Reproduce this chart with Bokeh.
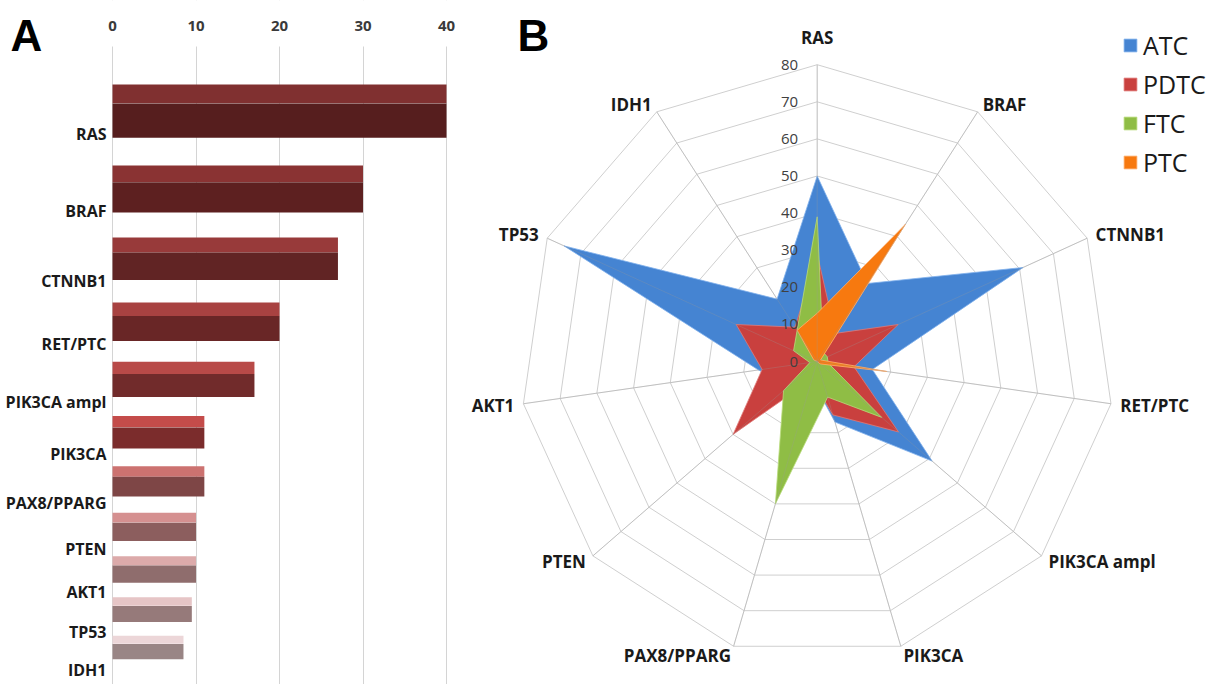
import numpy as np
from bokeh.plotting import figure
from bokeh.models import (Range1d, Label, FixedTicker, ColumnDataSource, Legend,
                          LegendItem, BoxAnnotation)
from bokeh.layouts import row
from bokeh.embed import file_html
from bokeh.resources import INLINE
from bokeh.core.properties import value

# ---------------- data ----------------
genes_a = ["RAS", "BRAF", "CTNNB1", "RET/PTC", "PIK3CA ampl", "PIK3CA",
           "PAX8/PPARG", "PTEN", "AKT1", "TP53", "IDH1"]
freq_a = [40, 30, 27, 20, 17, 11, 11, 10, 10, 9.5, 8.5]
ticks_a = [0, 10, 20, 30, 40]

genes_b = ["RAS", "BRAF", "CTNNB1", "RET/PTC", "PIK3CA ampl", "PIK3CA",
           "PAX8/PPARG", "PTEN", "AKT1", "TP53", "IDH1"]
atc = [50, 25, 61, 15, 41, 17, 5, 10, 16, 75, 20]
pdtc = [29, 9, 24, 10, 29, 15, 5, 30, 15, 24, 11]
ftc = [39, 3, 3, 3, 23, 10, 40, 12, 2, 7, 10]
ptc = [13, 44, 1, 19, 1, 0, 0, 0, 0, 1, 10]
series_names = ["ATC", "PDTC", "FTC", "PTC"]
radial_ticks = [0, 10, 20, 30, 40, 50, 60, 70, 80]

# ---------------- styles ----------------
top_colors = ["#803030", "#8a3333", "#983a3a", "#a84241", "#b84a48", "#c44c4a",
              "#cc7270", "#d59090", "#dcaaaa", "#e6c5c6", "#ecd6d8"]
front_colors = ["#561e1e", "#5d2020", "#612424", "#692626", "#712b2b", "#7b2c2c",
                "#7e4646", "#8c5e5e", "#8f6d6d", "#967a7a", "#998585"]
series_fill = ["#4584d2", "#c9403e", "#8fbd45", "#f7790f"]
series_edge = ["#7fb0ec", "#e07a78", "#b9dc7c", "#ffb070"]
FONT = "Open Sans"

# ---------------- layout geometry (page pixels) ----------------
WA, WB, H = 460, 756, 684
frame_top, frame_bot = 0, H

# ---------------- panel A ----------------
x0_px, ppu = 112, 8.35           # pixel of value 0, pixels per unit
row_px0, row_k = 111, 661.0      # pixel of first row, pixels per ln-unit (perspective rows)
pos = np.arange(len(genes_a)) + 8.0


def y_at(px):
    return 8 * np.exp((px - row_px0) / row_k)


src_a = ColumnDataSource(dict(
    gene=genes_a, freq=freq_a, pos=pos,
    y_top=pos - 0.21, y_front=pos + 0.11,
    top_color=top_colors, front_color=front_colors))

pa = figure(width=WA, height=H,
            x_range=Range1d((0 - x0_px) / ppu, (WA - x0_px) / ppu),
            y_range=Range1d(y_at(frame_bot), y_at(frame_top)), y_axis_type="log",
            x_axis_location="above", y_axis_location=None,
            output_backend="svg", toolbar_location=None,
            min_border_left=0, min_border_right=0, min_border_top=0, min_border_bottom=0)
pa.outline_line_color = None
pa.ygrid.visible = False
pa.xgrid.grid_line_color = "#d4d4d4"
pa.xaxis.ticker = FixedTicker(ticks=ticks_a)
pa.xaxis.fixed_location = y_at(35)
pa.xaxis.axis_line_color = None
pa.xaxis.major_tick_line_color = None
pa.xaxis.minor_tick_line_color = None
pa.xaxis.major_tick_out = 0
pa.xaxis.major_label_standoff = 5
pa.xaxis.major_label_text_font = FONT
pa.xaxis.major_label_text_font_style = "bold"
pa.xaxis.major_label_text_font_size = "15px"
pa.xaxis.major_label_text_color = "#3a3a3a"

# keep grid lines below the tick-label band
pa.add_layout(BoxAnnotation(bottom=y_at(46), fill_color="white", fill_alpha=1,
                            line_color=None, level="underlay"))

pa.hbar(y="y_top", height=0.22, left=0, right="freq", source=src_a,
        fill_color="top_color", line_color=None)
pa.hbar(y="y_front", height=0.42, left=0, right="freq", source=src_a,
        fill_color="front_color", line_color=None)
pa.text(x=0, y="pos", text="gene", source=src_a, x_offset=-6, y_offset=22,
        text_align="right", text_baseline="middle",
        text_font=value(FONT), text_font_style="bold", text_font_size="16px",
        text_color="#1a1a1a")
pa.add_layout(Label(x=10, y=H - 35, x_units="screen", y_units="screen",
                    text="A", text_font="Liberation Sans", text_font_style="bold",
                    text_font_size="44px", text_color="#000000",
                    text_baseline="alphabetic", text_align="left"))

# ---------------- panel B ----------------
cx_px, cy_px, ppu_b = 816.7, 361.0, 3.71
fb_left, fb_right = WA, WA + WB
n = len(genes_b)
theta = np.arange(n) * 2 * np.pi / n
sx, cy = np.sin(theta), np.cos(theta)
rmax = radial_ticks[-1]

pb = figure(width=WB, height=H,
            x_range=Range1d((fb_left - cx_px) / ppu_b, (fb_right - cx_px) / ppu_b),
            y_range=Range1d((cy_px - frame_bot) / ppu_b, (cy_px - frame_top) / ppu_b),
            x_axis_location=None, y_axis_location=None,
            output_backend="svg", toolbar_location=None,
            min_border_left=0, min_border_right=0, min_border_top=0, min_border_bottom=0)
pb.outline_line_color = None
pb.xgrid.visible = False
pb.ygrid.visible = False

ring_xs = [list(np.append(r * sx, r * sx[0])) for r in radial_ticks[1:]]
ring_ys = [list(np.append(r * cy, r * cy[0])) for r in radial_ticks[1:]]
pb.multi_line(ring_xs, ring_ys, line_color="#cfcfcf", line_width=1)
pb.segment(x0=0, y0=0, x1=rmax * sx, y1=rmax * cy, line_color="#cfcfcf", line_width=1)

items = []
for name, vals, fc, ec in zip(series_names, [atc, pdtc, ftc, ptc], series_fill, series_edge):
    v = np.array(vals, dtype=float)
    r = pb.patch(x=list(v * sx), y=list(v * cy), fill_color=fc, line_color=ec,
                 line_width=1, line_alpha=0.8)
    items.append(LegendItem(label=name, renderers=[r]))

pb.segment(x0=0, y0=0, x1=rmax * sx, y1=rmax * cy, line_color="#9a9a9a",
           line_width=0.8, line_alpha=0.35)

pb.text(x=[0] * len(radial_ticks), y=radial_ticks, text=[str(t) for t in radial_ticks],
        x_offset=-19, text_align="right", text_baseline="middle",
        text_font=value(FONT), text_font_size="15px", text_color="#404040")

rl = 82.5
aligns, bases, yoffs = [], [], []
for s, c in zip(sx, cy):
    if s > 0.1:
        aligns.append("left")
    elif s < -0.1:
        aligns.append("right")
    else:
        aligns.append("center")
    if abs(s) <= 0.1:
        bases.append("bottom" if c > 0 else "top")
        yoffs.append(-6 if c > 0 else 6)
    else:
        bases.append("middle")
        yoffs.append(0)
src_lab = ColumnDataSource(dict(x=rl * sx, y=rl * cy, t=genes_b, a=aligns, b=bases, yo=yoffs))
pb.text(x="x", y="y", text="t", source=src_lab, text_align="a", text_baseline="b",
        y_offset="yo", text_font=value(FONT), text_font_style="bold",
        text_font_size="17px", text_color="#1a1a1a")

legend = Legend(items=items, location=(1122 - fb_left, H - 32 - 147),
                orientation="vertical",
                glyph_width=16, glyph_height=16, label_height=26, spacing=5,
                label_standoff=5, padding=0, margin=0,
                label_text_font=FONT, label_text_font_size="25px",
                label_text_color="#1a1a1a", border_line_color=None,
                background_fill_alpha=0)
pb.add_layout(legend)

pb.add_layout(Label(x=517 - fb_left, y=H - 35, x_units="screen", y_units="screen",
                    text="B", text_font="Liberation Sans", text_font_style="bold",
                    text_font_size="44px", text_color="#000000",
                    text_baseline="alphabetic", text_align="left"))

layout = row(pa, pb)
open("out.html", "w").write(file_html(layout, INLINE))
